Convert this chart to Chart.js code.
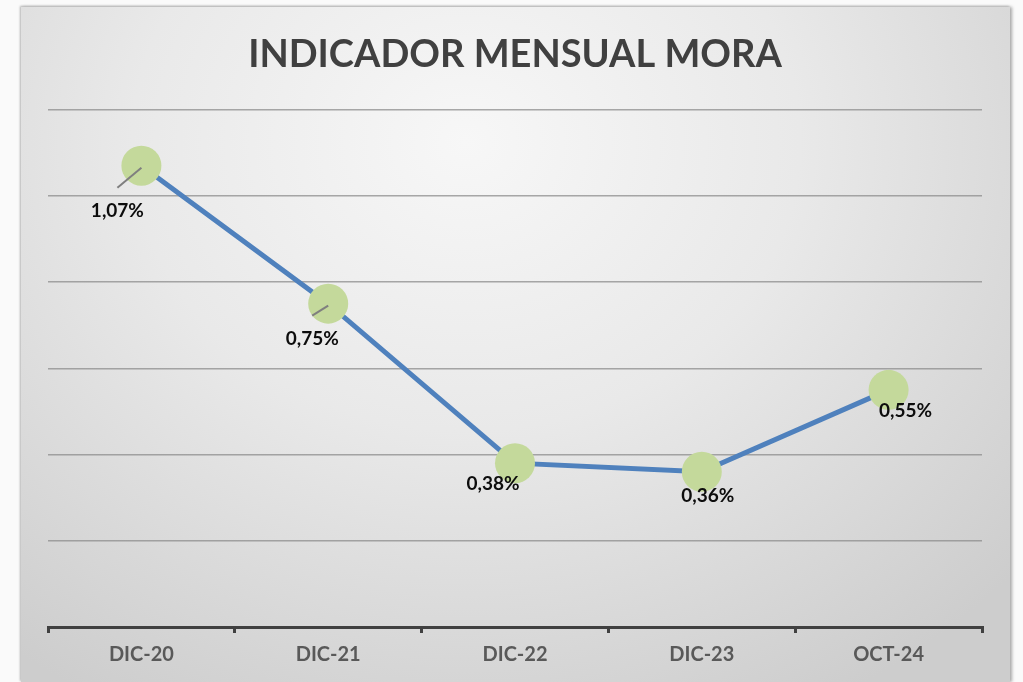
<!DOCTYPE html>
<html>
<head>
<meta charset="utf-8">
<script src="https://cdn.jsdelivr.net/npm/chart.js@4/dist/chart.umd.min.js"></script>
<style>
  html, body { margin: 0; padding: 0; background: #fafafa; }
  #frame {
    position: absolute; left: 21px; top: 7px; width: 989px; height: 675px;
    background: radial-gradient(ellipse 75% 95% at 45% 20%, #f7f7f7 0%, #e9e9e9 45%, #cdcdcd 100%);
    box-shadow: -1px -1px 2px #b5b5b5, 2px 0 3px #a8a8a8;
  }
</style>
</head>
<body>
<div id="frame"><canvas id="moraChart" width="989" height="675"></canvas></div>
<script>
const categories = ["DIC-20", "DIC-21", "DIC-22", "DIC-23", "OCT-24"];
const moraValues = [1.07, 0.75, 0.38, 0.36, 0.55];
const yTicks = [0, 0.2, 0.4, 0.6, 0.8, 1.0, 1.2];

const fontFamily = "Lato, 'Open Sans', sans-serif";

// where each value label sits relative to its point (px)
const labelOffsets = [[-24, 45], [-16, 35], [-22, 21], [6, 24], [17, 21]];
const leaderLines = [0, 1];

const valueLabels = {
  id: 'valueLabels',
  afterDatasetsDraw(chart) {
    const ctx = chart.ctx;
    const meta = chart.getDatasetMeta(0);
    ctx.save();
    meta.data.forEach((pt, i) => {
      const lx = pt.x + labelOffsets[i][0];
      const ly = pt.y + labelOffsets[i][1];
      if (leaderLines.includes(i)) {
        ctx.strokeStyle = '#7f7f7f';
        ctx.lineWidth = 2;
        ctx.beginPath();
        ctx.moveTo(pt.x, pt.y + 2);
        ctx.lineTo(lx, ly - 23);
        ctx.stroke();
      }
      ctx.fillStyle = '#0d0d0d';
      ctx.font = "bold 19px " + fontFamily;
      ctx.textAlign = 'center';
      ctx.textBaseline = 'middle';
      ctx.fillText(moraValues[i].toFixed(2).replace('.', ',') + '%', lx, ly);
    });
    ctx.restore();
  }
};

new Chart(document.getElementById('moraChart'), {
  type: 'line',
  data: {
    labels: categories,
    datasets: [{
      label: 'Mora',
      data: moraValues,
      borderColor: '#4f81bd',
      borderWidth: 5,
      pointRadius: 20,
      pointHoverRadius: 20,
      pointBackgroundColor: '#c4d99b',
      pointBorderWidth: 0,
      tension: 0
    }]
  },
  options: {
    responsive: false,
    animation: false,
    layout: { padding: { left: 27, right: 28, bottom: 5 } },
    plugins: {
      legend: { display: false },
      tooltip: { enabled: false },
      title: {
        display: true,
        text: 'INDICADOR MENSUAL MORA',
        color: '#404040',
        font: { family: fontFamily, size: 38, weight: 'bold' },
        padding: { top: 25, bottom: 32 }
      }
    },
    scales: {
      x: {
        offset: true,
        grid: {
          offset: true,
          drawOnChartArea: false,
          drawTicks: true,
          tickLength: 6,
          color: '#404040',
          lineWidth: 3
        },
        border: { color: '#404040', width: 3 },
        ticks: {
          color: '#595959',
          padding: 10,
          font: { family: fontFamily, size: 20, weight: 'bold' }
        }
      },
      y: {
        min: yTicks[0],
        max: yTicks[yTicks.length - 1],
        afterBuildTicks(scale) { scale.ticks = yTicks.map(v => ({ value: v })); },
        grid: { color: 'rgba(140,140,140,0.75)', lineWidth: 1.5, drawTicks: false },
        border: { display: false },
        ticks: { display: false }
      }
    }
  },
  plugins: [valueLabels]
});
</script>
</body>
</html>
